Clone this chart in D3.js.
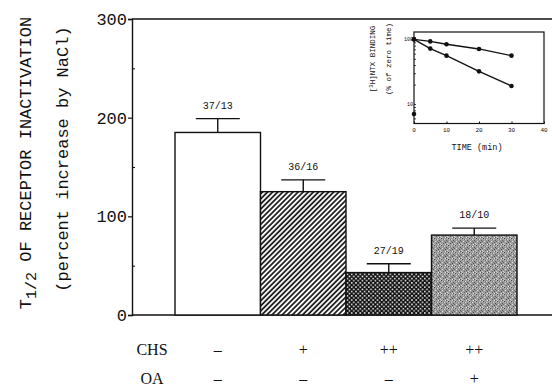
<!DOCTYPE html>
<html>
<head>
<meta charset="utf-8">
<script src="https://cdn.jsdelivr.net/npm/d3@7"></script>
<style>
  body { margin: 0; background: #fff; }
  svg { display: block; }
</style>
</head>
<body>
<div id="chart"></div>
<script>
// main bars
const groups = ['control', 'CHS', 'CHS++', 'CHS++/OA'];
const means = [185, 125, 43, 81];
const errors = [14, 12, 9, 7];
const nLabels = ['37/13', '36/16', '27/19', '18/10'];
const fills = ['white', 'url(#hatch)', 'url(#cross)', 'url(#stipple)'];
const yTicks = [0, 100, 200, 300];
const yMinor = [50, 150, 250];
const chsRow = ['\u2013', '+', '++', '++'];
const oaRow = ['\u2013', '\u2013', '\u2013', '+'];

// inset: [3H]NTX binding vs time
const insetTime = [0, 5, 10, 20, 30];
const insetSlow = [100, 93, 84, 71, 56];
const insetFast = [100, 72, 56, 32, 19];
const insetExtra = [[0, 7]];
const insetXTicks = [0, 10, 20, 30, 40];
const insetYTicks = [10, 100];

const W = 552, H = 390;
const svg = d3.select('#chart').append('svg')
  .attr('width', W).attr('height', H)
  .style('font-family', '"Liberation Mono", "DejaVu Sans Mono", monospace');

const defs = svg.append('defs');

const hatch = defs.append('pattern')
  .attr('id', 'hatch').attr('patternUnits', 'userSpaceOnUse')
  .attr('width', 3.6).attr('height', 3.6)
  .attr('patternTransform', 'rotate(45)');
hatch.append('rect').attr('width', 3.6).attr('height', 3.6).attr('fill', 'white');
hatch.append('line').attr('x1', 1).attr('y1', 0).attr('x2', 1).attr('y2', 3.6)
  .attr('stroke', '#111').attr('stroke-width', 1.7);

const cross = defs.append('pattern')
  .attr('id', 'cross').attr('patternUnits', 'userSpaceOnUse')
  .attr('width', 4.3).attr('height', 4.3);
cross.append('rect').attr('width', 4.3).attr('height', 4.3).attr('fill', '#111');
cross.append('rect').attr('x', 0.5).attr('y', 0.5).attr('width', 1.5).attr('height', 1.5).attr('fill', '#fff');
cross.append('rect').attr('x', 2.65).attr('y', 2.65).attr('width', 1.5).attr('height', 1.5).attr('fill', '#fff');

const stipple = defs.append('pattern')
  .attr('id', 'stipple').attr('patternUnits', 'userSpaceOnUse')
  .attr('width', 7).attr('height', 7);
stipple.append('rect').attr('width', 7).attr('height', 7).attr('fill', '#9c9c9c');
[[0, 0, '#444'], [3, 1, '#d8d8d8'], [5, 2, '#555'], [1, 3, '#e0e0e0'], [4, 4, '#4a4a4a'],
 [6, 5, '#d4d4d4'], [2, 5, '#606060'], [0, 6, '#c8c8c8'], [5, 6, '#585858'], [2, 1, '#707070'],
 [6, 0, '#c4c4c4'], [3, 3, '#777'], [1, 1, '#bcbcbc'], [4, 6, '#eee'], [6, 3, '#666']].forEach(([px, py, c]) => {
  stipple.append('rect').attr('x', px).attr('y', py).attr('width', 1).attr('height', 1).attr('fill', c);
});

const x = d3.scaleBand().domain(groups).range([175, 517]).padding(0);
const y = d3.scaleLinear().domain([0, 300]).range([315, 19]);
const xLeft = 132, xRight = 552;

// frame lines
svg.append('line').attr('x1', xLeft).attr('x2', xRight).attr('y1', y(300)).attr('y2', y(300))
  .attr('stroke', '#111').attr('stroke-width', 1.4);
svg.append('line').attr('x1', xLeft).attr('x2', xRight).attr('y1', y(0)).attr('y2', y(0))
  .attr('stroke', '#111').attr('stroke-width', 1.4);

const yAxis = svg.append('g').attr('transform', `translate(${xLeft},0)`)
  .call(d3.axisLeft(y).tickValues(yTicks).tickSize(4).tickPadding(1));
yAxis.select('.domain').attr('stroke', '#111').attr('stroke-width', 1.4);
yAxis.selectAll('.tick line').attr('stroke', '#111').attr('stroke-width', 1.2);
yAxis.selectAll('.tick text').attr('fill', '#111')
  .style('font-size', '17px').style('font-family', '"Liberation Mono", monospace');

const yMinorAxis = svg.append('g').attr('transform', `translate(${xLeft},0)`)
  .call(d3.axisRight(y).tickValues(yMinor).tickSize(3).tickFormat(''));
yMinorAxis.select('.domain').remove();
yMinorAxis.selectAll('.tick line').attr('stroke', '#111').attr('stroke-width', 1.1);

// y title
const t1 = svg.append('text')
  .attr('transform', 'translate(31,163) rotate(-90)')
  .attr('text-anchor', 'middle').style('font-size', '17px').attr('fill', '#111');
t1.append('tspan').text('T');
t1.append('tspan').attr('dy', 5).style('font-size', '15px').text('1/2');
t1.append('tspan').attr('dy', -5).text(' OF RECEPTOR INACTIVATION');

svg.append('text')
  .attr('transform', 'translate(68,159) rotate(-90)')
  .attr('text-anchor', 'middle').style('font-size', '17px').attr('fill', '#111')
  .text('(percent increase by NaCl)');

// bars
svg.append('g').selectAll('rect').data(groups).join('rect')
  .attr('x', d => x(d)).attr('width', x.bandwidth())
  .attr('y', (d, i) => y(means[i])).attr('height', (d, i) => y(0) - y(means[i]))
  .attr('fill', (d, i) => fills[i])
  .attr('stroke', '#111').attr('stroke-width', 1.4);

// error bars
const eb = svg.append('g').attr('stroke', '#111').attr('stroke-width', 1.4);
groups.forEach((g, i) => {
  const cx = x(g) + x.bandwidth() / 2;
  eb.append('line').attr('x1', cx).attr('x2', cx)
    .attr('y1', y(means[i])).attr('y2', y(means[i] + errors[i]));
  eb.append('line').attr('x1', cx - 22).attr('x2', cx + 22)
    .attr('y1', y(means[i] + errors[i])).attr('y2', y(means[i] + errors[i]));
  svg.append('text').attr('x', cx).attr('y', y(means[i] + errors[i]) - 10)
    .attr('text-anchor', 'middle').style('font-size', '10px').attr('fill', '#111')
    .text(nLabels[i]);
});

// CHS / OA rows
const rowFont = '"Liberation Serif", "DejaVu Serif", serif';
[['CHS', chsRow, 355], ['OA', oaRow, 384]].forEach(([name, row, yy]) => {
  svg.append('text').attr('x', 152).attr('y', yy).attr('text-anchor', 'middle')
    .style('font-family', rowFont).style('font-size', '16px').attr('fill', '#111').text(name);
  row.forEach((s, i) => {
    svg.append('text').attr('x', x(groups[i]) + x.bandwidth() / 2).attr('y', yy)
      .attr('text-anchor', 'middle').style('font-family', rowFont).style('font-size', '16px')
      .attr('fill', '#111').text(s);
  });
});

// inset
const xi = d3.scaleLinear().domain([0, 40]).range([414, 544]);
const yi = d3.scaleLog().domain([5, 130]).range([123.5, 32]);
const inset = svg.append('g');
inset.append('rect').attr('x', xi(0)).attr('y', yi(130))
  .attr('width', xi(40) - xi(0)).attr('height', yi(5) - yi(130))
  .attr('fill', 'white').attr('stroke', '#111').attr('stroke-width', 1.2);

const ixa = inset.append('g').attr('transform', `translate(0,${yi(5)})`)
  .call(d3.axisTop(xi).tickValues(insetXTicks).tickSize(2).tickFormat(''));
ixa.select('.domain').remove();
ixa.selectAll('line').attr('stroke', '#111');
insetXTicks.forEach(t => {
  inset.append('text').attr('x', xi(t)).attr('y', 132).attr('text-anchor', 'middle')
    .style('font-size', '6px').attr('fill', '#111').text(t);
});
const iya = inset.append('g').attr('transform', `translate(${xi(0)},0)`)
  .call(d3.axisRight(yi).tickValues([6, 7, 8, 9, 10, 20, 30, 40, 50, 60, 70, 80, 90, 100]).tickSize(2).tickFormat(''));
iya.select('.domain').remove();
iya.selectAll('line').attr('stroke', '#111').attr('stroke-width', 0.8);
insetYTicks.forEach(t => {
  inset.append('text').attr('x', xi(0) - 1).attr('y', yi(t) + 2).attr('text-anchor', 'end')
    .style('font-size', '5px').attr('fill', '#111').text(t);
});

const line = d3.line().x(d => xi(d[0])).y(d => yi(d[1]));
[insetSlow, insetFast].forEach(series => {
  const pts = insetTime.map((t, i) => [t, series[i]]);
  inset.append('path').attr('d', line(pts)).attr('fill', 'none')
    .attr('stroke', '#111').attr('stroke-width', 1.3);
  inset.selectAll(null).data(pts).join('circle')
    .attr('cx', d => xi(d[0])).attr('cy', d => yi(d[1])).attr('r', 2.3).attr('fill', '#111');
});
inset.selectAll(null).data(insetExtra).join('circle')
  .attr('cx', d => xi(d[0])).attr('cy', d => yi(d[1])).attr('r', 2.3).attr('fill', '#111');

inset.append('text').attr('x', 477).attr('y', 150).attr('text-anchor', 'middle')
  .style('font-size', '8.5px').attr('fill', '#111').text('TIME (min)');

const il1 = inset.append('text').attr('transform', 'translate(375,59) rotate(-90)')
  .attr('text-anchor', 'middle').style('font-size', '7.5px').attr('fill', '#111');
il1.append('tspan').text('[');
il1.append('tspan').attr('dy', -2).style('font-size', '5.5px').text('3');
il1.append('tspan').attr('dy', 2).text('H]NTX BINDING');
inset.append('text').attr('transform', 'translate(391,59) rotate(-90)')
  .attr('text-anchor', 'middle').style('font-size', '7.5px').attr('fill', '#111')
  .text('(% of zero time)');
</script>
</body>
</html>
